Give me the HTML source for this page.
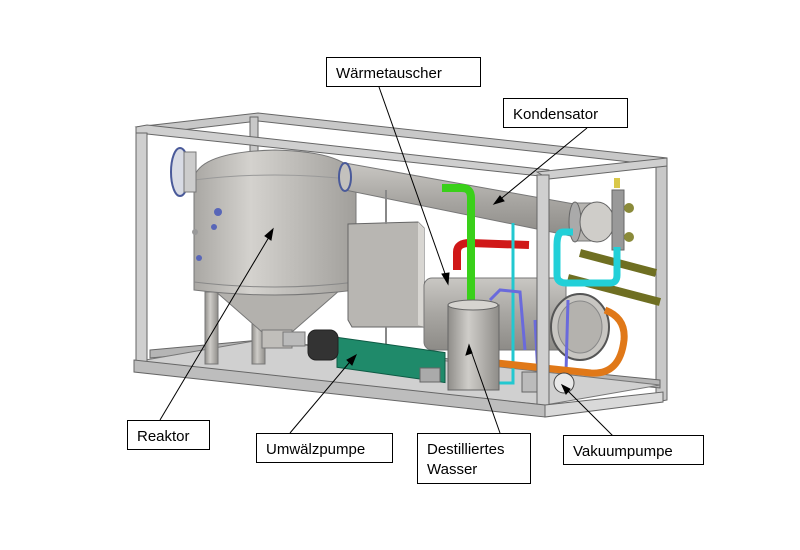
<!DOCTYPE html>
<html><head><meta charset="utf-8"><style>
html,body{margin:0;padding:0;background:#fff}
svg{display:block}
text{font-family:"Liberation Sans",Arial,sans-serif;font-size:15px;fill:#000}
</style></head><body>
<svg width="800" height="550" viewBox="0 0 800 550" xmlns="http://www.w3.org/2000/svg">
<defs>
<linearGradient id="tank" x1="0" x2="1" y1="0" y2="0">
<stop offset="0" stop-color="#a9a7a3"/><stop offset="0.35" stop-color="#d4d2ce"/><stop offset="1" stop-color="#a19f9b"/></linearGradient>
<linearGradient id="pipeH" x1="0" x2="0" y1="0" y2="1">
<stop offset="0" stop-color="#c9c7c3"/><stop offset="0.5" stop-color="#a8a6a2"/><stop offset="1" stop-color="#8d8b87"/></linearGradient>
<linearGradient id="vert" x1="0" x2="1" y1="0" y2="0">
<stop offset="0" stop-color="#8f8d89"/><stop offset="0.4" stop-color="#cfcdc9"/><stop offset="1" stop-color="#8f8d89"/></linearGradient>
</defs>

<!-- back frame -->
<g stroke="#666" stroke-width="1" fill="#c8c8c8">
<polygon points="136,127 258,113 667,158 667,166 258,121 147,134"/>
<polygon points="250,117 258,117 258,175 250,175"/>
<polygon points="656,165 667,162 667,400 656,402"/>
<polygon points="150,350 260,340 660,380 660,388 260,348 150,358" fill="#b5b5b5"/>
</g>
<polygon points="134,362 260,340 660,385 545,405" fill="#d0d0d0" stroke="#777"/>

<rect x="205" y="292" width="13" height="72" fill="url(#vert)" stroke="#777"/>
<rect x="252" y="292" width="13" height="72" fill="url(#vert)" stroke="#777"/>
<polygon points="214,290 340,290 292,332 262,332" fill="#b3b1ad" stroke="#777"/>
<rect x="262" y="330" width="30" height="18" fill="#c0beba" stroke="#777"/>
<rect x="283" y="332" width="22" height="14" fill="#bbb" stroke="#777"/>
<path d="M194,178 Q200,152 275,150 Q350,152 356,178 L356,290 Q275,300 194,290 Z" fill="url(#tank)" stroke="#777"/>
<path d="M194,180 Q275,170 356,180" fill="none" stroke="#999"/>
<path d="M194,282 Q275,292 356,282" fill="none" stroke="#888"/>
<ellipse cx="180" cy="172" rx="9" ry="24" fill="#d8dbe4" stroke="#4a5a9a" stroke-width="2"/>
<rect x="184" y="152" width="12" height="40" fill="#ccc" stroke="#777"/>
<circle cx="218" cy="212" r="4" fill="#5866b8"/><circle cx="214" cy="227" r="3" fill="#5866b8"/><circle cx="195" cy="232" r="3" fill="#999"/>
<circle cx="199" cy="258" r="3" fill="#5866b8"/>

<polygon points="345,163 591,207 576,237 345,190" fill="url(#pipeH)" stroke="#777"/>
<ellipse cx="345" cy="177" rx="6" ry="14" fill="#c3c1bd" stroke="#4a5a9a" stroke-width="2"/>
<rect x="573" y="203" width="25" height="38" fill="#b6b4b0" stroke="#777"/>
<ellipse cx="575" cy="222" rx="6" ry="20" fill="#aaa" stroke="#666"/>
<ellipse cx="597" cy="222" rx="17" ry="20" fill="#cfcdc9" stroke="#666"/>
<rect x="612" y="190" width="12" height="60" fill="#999" stroke="#666"/>
<circle cx="629" cy="208" r="5" fill="#8a8a3a"/><circle cx="629" cy="237" r="5" fill="#8a8a3a"/>
<rect x="614" y="178" width="6" height="10" fill="#d9c84a"/>

<polygon points="348,224 418,222 424,228 424,327 352,327 348,320" fill="#b8b6b2" stroke="#666"/>
<polygon points="418,222 424,228 424,327 418,325" fill="#d8d6d2"/>
<line x1="386" y1="190" x2="386" y2="224" stroke="#888" stroke-width="2"/>
<line x1="386" y1="327" x2="386" y2="368" stroke="#888" stroke-width="2"/>

<rect x="424" y="278" width="142" height="72" rx="8" fill="url(#pipeH)" stroke="#777"/>
<ellipse cx="580" cy="327" rx="29" ry="33" fill="#c8c6c2" stroke="#555" stroke-width="2"/>
<ellipse cx="580" cy="327" rx="22" ry="26" fill="#b4b2ae" stroke="#888"/>

<path d="M580,253 L656,273" stroke="#6f6f22" stroke-width="8" fill="none"/>
<path d="M568,278 L660,302" stroke="#6f6f22" stroke-width="8" fill="none"/>
<path d="M457,270 L457,252 Q457,243 470,243 L529,245" stroke="#d01818" stroke-width="8" fill="none"/>
<path d="M442,188 L462,188 Q471,188 471,198 L471,303" stroke="#3ad01a" stroke-width="8" fill="none"/>
<path d="M573,232 L563,232 Q557,232 557,245 L557,275 Q557,283 566,283 L610,283 Q617,283 617,275 L617,247" stroke="#22d0d8" stroke-width="7" fill="none"/>
<path d="M513,223 L513,383 L497,383" stroke="#22c8d0" stroke-width="3" fill="none"/>
<path d="M490,300 L500,290 L520,292 L525,350 M535,320 L538,375 M568,300 L566,372" stroke="#6a6adc" stroke-width="3" fill="none"/>
<path d="M605,310 Q626,318 624,340 Q620,375 591,373 L497,363" stroke="#e07818" stroke-width="7" fill="none"/>

<rect x="337" y="338" width="108" height="30" fill="#1f8a6a" stroke="#0e5a44" transform="skewY(8) translate(0,-48)"/>
<rect x="308" y="330" width="30" height="30" rx="8" fill="#333" stroke="#222"/>
<rect x="420" y="368" width="20" height="14" fill="#aaa" stroke="#666"/>

<rect x="448" y="305" width="51" height="85" fill="url(#vert)" stroke="#666"/>
<ellipse cx="473" cy="305" rx="25" ry="5" fill="#d6d4d0" stroke="#666"/>

<rect x="522" y="372" width="18" height="20" fill="#bbb" stroke="#666"/>
<ellipse cx="564" cy="383" rx="10" ry="10" fill="#e8e8e8" stroke="#444"/>

<g stroke="#666" stroke-width="1" fill="#cfcfcf">
<polygon points="136,127 147,125 549,170 549,177 147,134 136,137"/>
<polygon points="537,172 667,158 667,166 549,179"/>
<rect x="136" y="133" width="11" height="236"/>
<rect x="537" y="175" width="12" height="240"/>
<polygon points="134,360 545,405 545,417 134,372" fill="#bdbdbd"/>
<polygon points="545,405 663,392 663,402 545,417" fill="#d9d9d9"/>
</g>

<g stroke="#000" stroke-width="1" fill="#000">
<line x1="379" y1="87" x2="448" y2="282"/><polygon points="448,284 442,274 449,273"/>
<line x1="587" y1="128" x2="497" y2="202"/><polygon points="494,204 500,196 504,201"/>
<line x1="272" y1="232" x2="160" y2="420"/><polygon points="273,229 265,236 271,240"/>
<line x1="354" y1="357" x2="290" y2="433"/><polygon points="356,355 347,360 352,365"/>
<line x1="470" y1="348" x2="500" y2="433"/><polygon points="469,345 466,355 472,353"/>
<line x1="564" y1="387" x2="613" y2="436"/><polygon points="562,385 566,394 570,389"/>
</g>

<g fill="#fff" stroke="#000" stroke-width="1">
<rect x="326.5" y="57.5" width="154" height="29"/>
<rect x="503.5" y="98.5" width="124" height="29"/>
<rect x="127.5" y="420.5" width="82" height="29"/>
<rect x="256.5" y="433.5" width="136" height="29"/>
<rect x="417.5" y="433.5" width="113" height="50"/>
<rect x="563.5" y="435.5" width="140" height="29"/>
</g>
<text x="336" y="78">Wärmetauscher</text>
<text x="513" y="119">Kondensator</text>
<text x="137" y="441">Reaktor</text>
<text x="266" y="454">Umwälzpumpe</text>
<text x="427" y="454">Destilliertes</text>
<text x="427" y="474">Wasser</text>
<text x="573" y="456">Vakuumpumpe</text>
</svg>
</body></html>
